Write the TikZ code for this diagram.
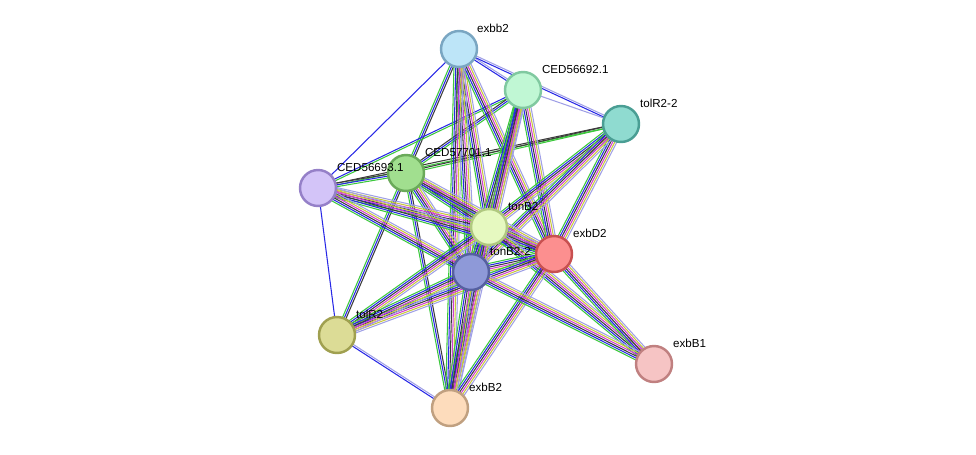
\documentclass[tikz,border=0pt]{standalone}
\usepackage{fontspec}
\setmainfont{Liberation Sans}
\usetikzlibrary{calc,backgrounds}
\definecolor{egreen}{HTML}{3CC83C}\definecolor{eblue}{HTML}{2828E6}\definecolor{eblack}{HTML}{3C3C3C}
\definecolor{emag}{HTML}{D23CD2}\definecolor{eyel}{HTML}{C8C83C}\definecolor{elav}{HTML}{A0A0E6}
\newcommand\bund[4]{\foreach \c [count=\i] in {#4}{\pgfmathsetmacro\off{(\i-(#3+1)/2)*1.05}\draw[color=\c,line width=0.6pt] ($(#1)!\off pt!90:(#2)$) -- ($(#2)!\off pt!-90:(#1)$);}}
\newcommand\full[2]{\bund{#1}{#2}{6}{egreen,eblue,eblack,emag,eyel,elav}}
\tikzset{prot/.style={circle,minimum size=0.72cm,line width=1.4pt,inner sep=0pt},
lab/.style={font=\fontsize{6.6}{7}\selectfont,anchor=south west,inner sep=1pt}}
\begin{document}
\begin{tikzpicture}[x=0.02cm,y=-0.02cm]
\useasboundingbox (0,0) rectangle (976,454);
\node[prot,fill={rgb,255:red,189;green,229;blue,248},draw={rgb,255:red,122;green,166;blue,194}] (exbb2) at (459,49) {};
\node[prot,fill={rgb,255:red,192;green,247;blue,212},draw={rgb,255:red,128;green,201;blue,160}] (c692) at (523,90) {};
\node[prot,fill={rgb,255:red,143;green,219;blue,208},draw={rgb,255:red,74;green,158;blue,148}] (tolR22) at (621,124) {};
\node[prot,fill={rgb,255:red,161;green,223;blue,143},draw={rgb,255:red,106;green,170;blue,90}] (c701) at (406,173) {};
\node[prot,fill={rgb,255:red,211;green,196;blue,248},draw={rgb,255:red,149;green,128;blue,200}] (c693) at (318,188) {};
\node[prot,fill={rgb,255:red,230;green,249;blue,192},draw={rgb,255:red,176;green,200;blue,128}] (tonB2) at (489,227) {};
\node[prot,fill={rgb,255:red,252;green,143;blue,143},draw={rgb,255:red,200;green,80;blue,80}] (exbD2) at (554,254) {};
\node[prot,fill={rgb,255:red,142;green,153;blue,216},draw={rgb,255:red,85;green,96;blue,160}] (tonB22) at (471,272) {};
\node[prot,fill={rgb,255:red,220;green,220;blue,150},draw={rgb,255:red,160;green,160;blue,80}] (tolR2) at (337,335) {};
\node[prot,fill={rgb,255:red,253;green,220;blue,188},draw={rgb,255:red,192;green,160;blue,128}] (exbB2) at (450,408) {};
\node[prot,fill={rgb,255:red,246;green,196;blue,196},draw={rgb,255:red,192;green,128;blue,128}] (exbB1) at (654,364) {};
\node[lab] (l1) at (475,35) {exbb2};
\node[lab] (l2) at (540,76) {CED56692.1};
\node[lab] (l3) at (638,110) {tolR2-2};
\node[lab] (l4) at (423,159) {CED57701.1};
\node[lab] (l5) at (335,174) {CED56693.1};
\node[lab] (l6) at (506,213) {tonB2};
\node[lab] (l7) at (571,240) {exbD2};
\node[lab] (l8) at (488,258) {tonB2-2};
\node[lab] (l9) at (354,321) {tolR2};
\node[lab] (l10) at (467,394) {exbB2};
\node[lab] (l11) at (671,350) {exbB1};
\begin{scope}[on background layer]
\bund{exbb2}{c692}{2}{eblue,elav}
\bund{exbb2}{tolR22}{2}{eblue,elav}
\bund{c692}{tolR22}{1}{elav}
\bund{exbb2}{c701}{3}{egreen,eblue,eblack}
\bund{c693}{c692}{2}{egreen,eblue}
\bund{c693}{exbb2}{1}{eblue}
\bund{c693}{tolR22}{2}{egreen,eblack}
\bund{c701}{tolR22}{2}{egreen,eblack}
\bund{c701}{c692}{3}{egreen,eblue,eblack}
\bund{c693}{c701}{3}{egreen,eblue,eblack}
\bund{c693}{tolR2}{1}{eblue}
\bund{tolR2}{exbB2}{2}{eblue,elav}
\bund{c701}{tolR2}{3}{egreen,eblue,eblack}
\bund{c701}{exbB2}{3}{egreen,eblue,eblack}
\foreach \a/\b in {exbb2/tonB2,exbb2/exbD2,exbb2/tonB22,exbb2/exbB2,c692/tonB2,c692/exbD2,c692/tonB22,c692/exbB2,tolR22/tonB2,tolR22/exbD2,tolR22/tonB22,c701/tonB2,c701/exbD2,c701/tonB22,c693/tonB2,c693/exbD2,c693/tonB22,tonB2/exbD2,tonB2/tonB22,tonB2/tolR2,tonB2/exbB2,tonB2/exbB1,exbD2/tonB22,exbD2/tolR2,exbD2/exbB2,exbD2/exbB1,tonB22/tolR2,tonB22/exbB2,tonB22/exbB1}{\full{\a}{\b}}
\end{scope}
\end{tikzpicture}
\end{document}
